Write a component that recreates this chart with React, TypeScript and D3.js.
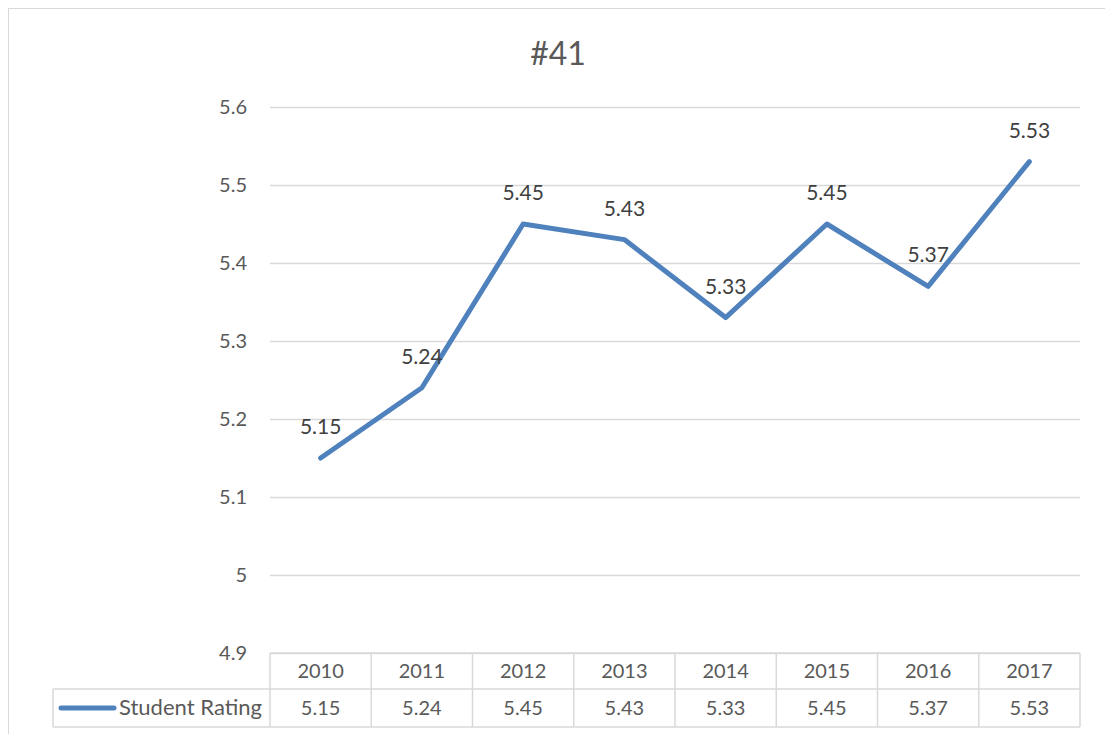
import React, { useEffect, useRef } from 'react'
import * as d3 from 'd3'

const years = ['2010', '2011', '2012', '2013', '2014', '2015', '2016', '2017']
const ratings = [5.15, 5.24, 5.45, 5.43, 5.33, 5.45, 5.37, 5.53]
const yTicks = [4.9, 5, 5.1, 5.2, 5.3, 5.4, 5.5, 5.6]
const seriesName = 'Student Rating'
const title = '#41'

const W = 1105
const H = 734
const font = 'Lato, "Open Sans", sans-serif'
const lineColour = '#4f81bd'
const gridColour = '#d9d9d9'

export default function App() {
  const ref = useRef<SVGSVGElement>(null)

  useEffect(() => {
    const svg = d3.select(ref.current)
    svg.selectAll('*').remove()

    const plot = { left: 270, right: 1080, top: 107, bottom: 653 }
    const rowH = { head: 36, body: 38 }
    const legendLeft = 53

    const x = d3.scaleBand().domain(years).range([plot.left, plot.right])
    const y = d3.scaleLinear().domain([4.9, 5.6]).range([plot.bottom, plot.top])

    // chart frame
    svg.append('rect')
      .attr('x', 8.5).attr('y', 8.5)
      .attr('width', W).attr('height', H)
      .attr('fill', 'white').attr('stroke', gridColour)

    svg.append('text')
      .attr('x', 558).attr('y', 65)
      .attr('text-anchor', 'middle')
      .attr('font-family', font).attr('font-size', 32)
      .attr('fill', '#595959')
      .text(title)

    // gridlines + y labels
    svg.append('g')
      .attr('transform', `translate(${plot.left},0)`)
      .call((g) => {
        g.call(d3.axisLeft(y).tickValues(yTicks).tickSize(-(plot.right - plot.left)).tickPadding(23).tickFormat(d3.format('')))
        g.select('.domain').remove()
        g.selectAll('.tick line').attr('stroke', gridColour).attr('stroke-width', 1.3)
        g.selectAll('.tick text')
          .attr('font-family', font).attr('font-size', 20).attr('fill', '#595959')
      })

    // data table
    const table = svg.append('g').attr('stroke', gridColour).attr('stroke-width', 1.5).attr('fill', 'none')
    const headTop = plot.bottom
    const bodyTop = headTop + rowH.head
    const bodyBottom = bodyTop + rowH.body
    table.append('line').attr('x1', plot.left).attr('x2', plot.right).attr('y1', headTop).attr('y2', headTop)
    table.append('line').attr('x1', legendLeft).attr('x2', plot.right).attr('y1', bodyTop).attr('y2', bodyTop)
    table.append('line').attr('x1', legendLeft).attr('x2', plot.right).attr('y1', bodyBottom).attr('y2', bodyBottom)
    table.append('line').attr('x1', legendLeft).attr('x2', legendLeft).attr('y1', bodyTop).attr('y2', bodyBottom)
    table.selectAll('line.col')
      .data([...years.map((d) => x(d)!), plot.right])
      .enter().append('line')
      .attr('class', 'col')
      .attr('x1', (d) => d).attr('x2', (d) => d)
      .attr('y1', headTop).attr('y2', bodyBottom)

    const cellText = (sel: any) => sel
      .attr('text-anchor', 'middle')
      .attr('font-family', font).attr('font-size', 20).attr('fill', '#595959')

    svg.selectAll('text.year')
      .data(years)
      .enter().append('text')
      .attr('class', 'year')
      .attr('x', (d) => x(d)! + x.bandwidth() / 2)
      .attr('y', headTop + 25)
      .call(cellText)
      .text((d) => d)

    svg.selectAll('text.cell')
      .data(ratings)
      .enter().append('text')
      .attr('class', 'cell')
      .attr('x', (d, i) => x(years[i])! + x.bandwidth() / 2)
      .attr('y', bodyTop + 26)
      .call(cellText)
      .text((d) => d.toFixed(2))

    // legend key
    svg.append('line')
      .attr('x1', 61).attr('x2', 114)
      .attr('y1', bodyTop + 19).attr('y2', bodyTop + 19)
      .attr('stroke', lineColour).attr('stroke-width', 5).attr('stroke-linecap', 'round')
    svg.append('text')
      .attr('x', 119).attr('y', bodyTop + 26)
      .attr('font-family', font).attr('font-size', 21).attr('fill', '#595959')
      .attr('textLength', 143).attr('lengthAdjust', 'spacingAndGlyphs')
      .text(seriesName)

    // series line
    const line = d3.line<number>()
      .x((d, i) => x(years[i])! + x.bandwidth() / 2)
      .y((d) => y(d))
    svg.append('path')
      .datum(ratings)
      .attr('d', line)
      .attr('fill', 'none')
      .attr('stroke', lineColour)
      .attr('stroke-width', 5)
      .attr('stroke-linecap', 'round')
      .attr('stroke-linejoin', 'round')

    // data labels
    svg.selectAll('text.label')
      .data(ratings)
      .enter().append('text')
      .attr('class', 'label')
      .attr('x', (d, i) => x(years[i])! + x.bandwidth() / 2)
      .attr('y', (d) => y(d) - 24)
      .attr('text-anchor', 'middle')
      .attr('font-family', font).attr('font-size', 21).attr('fill', '#404040')
      .text((d) => d.toFixed(2))
  }, [])

  return (
    <svg ref={ref} width={W} height={H} style={{ position: 'absolute', left: 0, top: 0, background: 'white' }} />
  )
}
